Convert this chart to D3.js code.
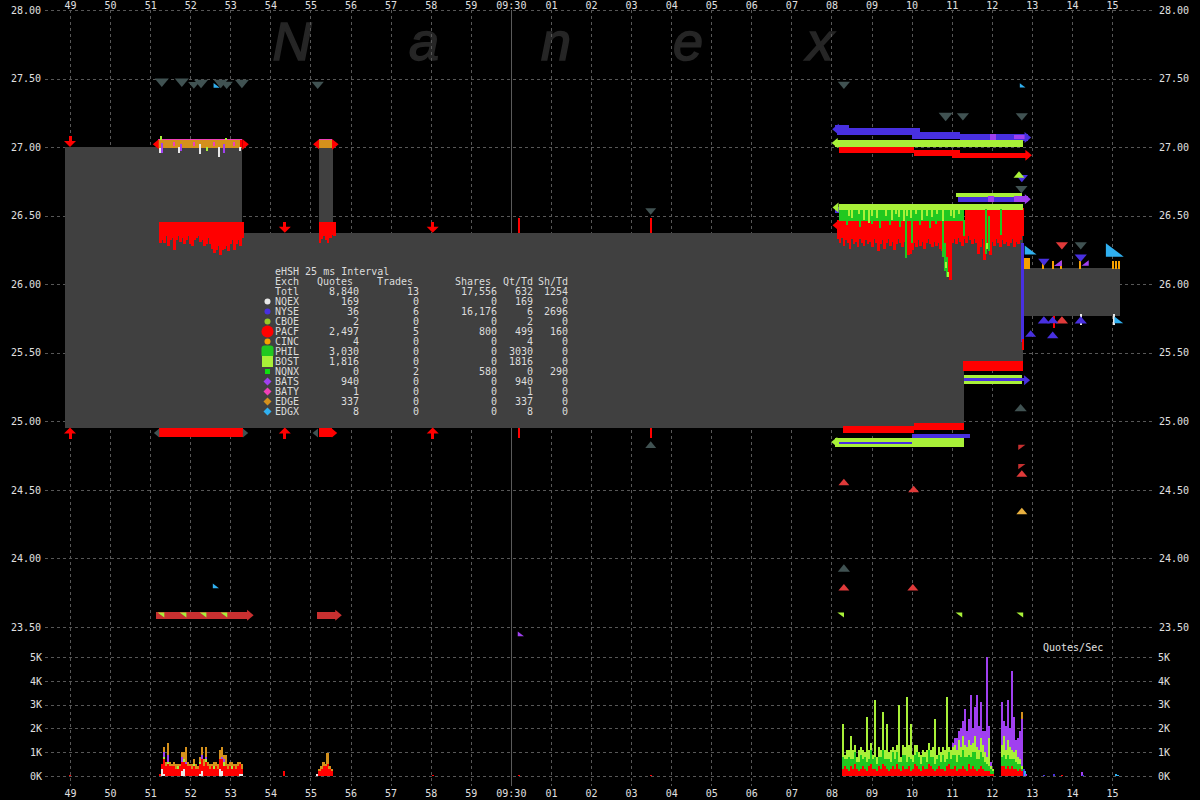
<!DOCTYPE html>
<html><head><meta charset="utf-8">
<script src="https://cdn.jsdelivr.net/npm/d3@7"></script>
<style>
html,body{margin:0;padding:0;background:#000;}
svg{display:block;}
text{font-family:"DejaVu Sans Mono",monospace;}
</style></head>
<body>
<svg id="chart" width="1200" height="800"></svg>
<script>
// ================= DATA =================
const secondTicks = [-11,-10,-9,-8,-7,-6,-5,-4,-3,-2,-1,0,1,2,3,4,5,6,7,8,9,10,11,12,13,14,15];
const secondLabels = ["49","50","51","52","53","54","55","56","57","58","59","09:30","01","02","03","04","05","06","07","08","09","10","11","12","13","14","15"];
const priceTicks = [28,27.5,27,26.5,26,25.5,25,24.5,24,23.5];
const rateTicks = [0,1000,2000,3000,4000,5000];
const rateLabels = ["0K","1K","2K","3K","4K","5K"];

// NBBO spread (step intervals)
const nbboTimes = [-11.13,-6.72,-4.79,-4.45,11.3,12.77,15.2];
const nbboAsk  = [27.00,26.375,27.00,26.375,26.375,26.12];
const nbboBid  = [24.955,24.955,24.955,24.955,25.44,25.77];

// quote bands: [exch, tStart, tEnd, priceHigh, priceLow]
const quoteBands = [
  ["EDGE",-8.80,-6.70,27.052,26.993],
  ["BATY",-8.80,-6.70,27.057,27.050],
  ["PACF",-8.78,-6.68,24.951,24.886],
  ["PACFd",-8.86,-6.54,23.609,23.558],
  ["EDGE",-4.79,-4.46,27.052,26.993],
  ["BATY",-4.79,-4.46,27.057,27.050],
  ["PACF",-4.79,-4.46,24.951,24.886],
  ["PACFd",-4.84,-4.34,23.609,23.558],
  ["NYSE",8.10,8.45,27.161,27.130],
  ["NYSE",8.13,10.20,27.139,27.088],
  ["NYSE",10.00,11.20,27.110,27.059],
  ["NYSE",11.20,12.90,27.096,27.044],
  ["BATS",11.95,12.10,27.096,27.050],
  ["BATS",12.55,12.90,27.090,27.060],
  ["BOST",8.10,12.78,27.052,27.000],
  ["PACF",8.20,10.05,27.000,26.957],
  ["PACF",10.05,11.20,26.979,26.935],
  ["PACF",11.00,12.92,26.957,26.921],
  ["BOST",11.10,12.75,26.665,26.635],
  ["NYSE",11.15,12.90,26.635,26.600],
  ["BATS",12.55,12.90,26.640,26.600],
  ["BATS",11.90,12.05,26.640,26.600],
  ["NYSE",8.10,8.22,26.560,26.520],
  ["PHIL",8.18,11.30,26.541,26.462],
  ["BOST",8.18,12.78,26.585,26.541],
  ["BOST",8.10,11.30,24.878,24.813],
  ["NYSE",8.20,10.00,24.849,24.834],
  ["NYSE",10.00,11.45,24.905,24.878],
  ["PACF",8.30,10.05,24.968,24.915],
  ["PACF",10.05,11.30,24.990,24.940],
  ["PACF",11.28,12.78,25.440,25.367],
  ["BOST",11.30,12.75,25.338,25.316],
  ["NYSE",11.30,12.85,25.316,25.294],
  ["BOST",11.30,12.75,25.294,25.272],
  ["CINC",12.78,12.95,26.19,26.11]
];

// PACF quote profiles (top price, then lowest price every 0.05 s)
const profileStep = 0.05;
const pacfLeftStart = -8.78, pacfLeftTop = 26.454;
const pacfLeftLows = [26.30,26.32,26.30,26.35,26.28,26.32,26.34,26.25,26.32,26.35,
  26.31,26.34,26.29,26.32,26.35,26.29,26.28,26.32,26.34,26.35,
  26.31,26.32,26.28,26.29,26.34,26.29,26.26,26.23,26.25,26.28,
  26.21,26.25,26.26,26.28,26.24,26.29,26.32,26.25,26.29,26.32,
  26.28,26.34];
const pacfMidStart = -4.79, pacfMidTop = 26.454;
const pacfMidLows = [26.30,26.33,26.35,26.32,26.30,26.34,26.36,26.35];
const pacfRight1Start = 8.134, pacfRight1Top = 26.468;
const pacfRight1Lows = [26.33,26.30,26.34,26.28,26.32,26.30,26.26,26.33,26.29,26.31,26.27,26.33,26.30,26.28,26.32,26.29,26.31,
  26.27,26.33,26.30,26.24,26.29,26.32,26.26,26.30,26.33,26.28,26.31,26.25,26.29,26.33,26.30,26.27,26.31,26.29,
  26.21,26.22,26.25,26.30,26.27,26.32,26.28,26.31,26.26,26.30,26.33,26.29,26.27,26.31,26.28,26.30,26.26,
  26.24,26.20,26.12,26.06,26.03,26.30,26.33,26.29,26.34,26.31,26.28,26.33];
const pacfRight2Start = 11.33, pacfRight2Top = 26.556;
const pacfRight2Lows = [26.30,26.35,26.32,26.29,26.33,
  26.30,26.22,26.27,26.33,26.18,26.30,26.26,26.21,26.31,26.28,26.33,26.30,26.27,26.32,26.29,26.31,26.28,
  26.30,26.33,26.27,26.31,26.29,26.32,26.35];

// single quote ticks: [exch, t, priceHigh, priceLow]
const quoteTicks = [
  ["BOST",-8.74,27.08,27.05],["BATS",-8.70,27.03,26.96],["NQEX",-8.76,26.99,26.96],
  ["BATS",-8.23,27.02,26.97],["NQEX",-8.27,27.00,26.96],["NQEX",-7.76,27.02,26.95],
  ["BOST",-7.58,27.00,26.97],["BATS",-7.16,27.02,26.96],["NQEX",-7.28,27.00,26.93],
  ["NQEX",-6.77,27.00,26.97],["BOST",-7.10,27.07,27.05],["PACF",-6.74,27.05,27.00],
  ["BATY",-8.40,27.04,27.01],["BATY",-7.90,27.04,27.01],["BATY",-7.40,27.04,27.01],
  ["BATY",-6.90,27.04,27.01],
  ["PACF",0.20,26.48,26.375],["PACF",0.20,24.955,24.88],
  ["PACF",3.49,26.48,26.375],["PACF",3.49,24.955,24.88],
  ["PHIL",9.855,26.47,26.19],["PHIL",10.00,26.47,26.30],["PHIL",10.78,26.47,26.20],
  ["PHIL",10.83,26.30,26.10],["PHIL",10.88,26.20,26.05],["PHIL",11.30,26.47,26.35],
  ["PHIL",11.85,26.55,26.22],["PHIL",11.93,26.50,26.24],["PHIL",12.23,26.55,26.36],
  ["BOST",10.86,26.16,26.12],["BOST",10.90,26.09,26.05],["BOST",11.88,26.30,26.26],
  ["PHIL",8.40,26.47,26.43],["PHIL",8.70,26.47,26.42],["PHIL",9.00,26.47,26.44],
  ["PHIL",9.20,26.47,26.41],["PHIL",9.45,26.47,26.43],["PHIL",9.70,26.47,26.42],
  ["PHIL",10.20,26.47,26.43],["PHIL",10.45,26.47,26.41],["PHIL",10.60,26.47,26.44],
  ["BOST",8.43,26.54,26.50],["BOST",8.51,26.54,26.48],["BOST",8.68,26.54,26.51],
  ["BOST",8.81,26.54,26.47],["BOST",8.93,26.54,26.45],["BOST",9.01,26.54,26.50],
  ["BOST",9.13,26.54,26.48],["BOST",9.35,26.54,26.50],["BOST",9.50,26.54,26.47],
  ["BOST",9.61,26.54,26.51],["BOST",9.68,26.54,26.49],["BOST",9.81,26.54,26.46],
  ["BOST",9.88,26.54,26.50],["BOST",9.98,26.54,26.48],["BOST",10.10,26.54,26.51],
  ["BOST",10.25,26.54,26.47],["BOST",10.38,26.54,26.50],["BOST",10.50,26.54,26.49],
  ["BOST",10.63,26.54,26.51],["BOST",10.78,26.54,26.46],["BOST",10.98,26.54,26.50],
  ["BOST",11.05,26.54,26.48],["BOST",11.18,26.54,26.51],
  ["NYSE",12.76,26.30,25.58],["PACF",12.78,25.60,25.52],
  ["CINC",13.27,26.17,26.11],["CINC",13.52,26.17,26.11],["CINC",13.73,26.17,26.11],
  ["CINC",14.20,26.17,26.11],["CINC",15.03,26.17,26.11],["CINC",15.10,26.17,26.11],
  ["CINC",15.17,26.17,26.11],
  ["NQEX",14.22,25.78,25.70],["NQEX",15.05,25.78,25.70],["PACF",13.55,25.77,25.68]
];

// quote markers: [exch, t, price, side, lots]
const quoteMarks = [
  ["OTHR",-8.71,27.47,"a",2],["OTHR",-8.21,27.47,"a",2],["OTHR",-7.91,27.45,"a",1.3],
  ["OTHR",-7.73,27.46,"a",2],["OTHR",-7.24,27.46,"a",2],["OTHR",-7.09,27.45,"a",1.5],
  ["OTHR",-6.71,27.46,"a",2],["OTHR",-4.82,27.45,"a",1.5],
  ["OTHR",8.31,27.45,"a",1.5],["OTHR",10.85,27.22,"a",2],["OTHR",11.28,27.22,"a",1.5],
  ["OTHR",12.75,27.22,"a",1.5],["OTHR",12.74,26.69,"a",1.5],["OTHR",12.72,25.10,"b",1.5],
  ["OTHR",3.49,26.53,"a",1.2],["OTHR",3.49,24.83,"b",1.2],["OTHR",8.31,23.93,"b",1.5],
  ["OTHR",14.22,26.28,"a",1.5],
  ["PACFm",8.31,24.557,"b",1.2],["PACFm",10.05,24.506,"b",1.2],["PACFm",8.31,23.79,"b",1.2],
  ["PACFm",10.03,23.79,"b",1.2],["PACFm",12.75,24.62,"b",1.2],["PACFm",13.75,26.28,"a",1.5],
  ["PACFm",13.75,25.74,"b",1.5],
  ["PACFd",12.75,24.81,"tl",0.8],["PACFd",12.75,24.67,"tl",0.8],
  ["CINCm",12.75,24.346,"b",1.2],
  ["BOST",-8.73,23.587,"tr",0.7],["BOST",-8.18,23.587,"tr",0.7],["BOST",-7.68,23.587,"tr",0.7],
  ["BOST",-7.16,23.587,"tr",0.7],["BOST",8.23,23.587,"tr",0.7],["BOST",11.18,23.587,"tr",0.7],
  ["BOST",12.70,23.587,"tr",0.7],
  ["EDGX",-7.36,23.80,"bl",0.6],["EDGX",-7.34,27.45,"bl",0.6],["EDGX",12.77,27.45,"bl",0.5],
  ["EDGX",12.97,26.25,"bl",2.2],["EDGX",15.07,26.25,"bl",5],["EDGX",15.17,25.74,"bl",1.2],
  ["BATS",0.25,23.45,"bl",0.6],
  ["NYSE",13.30,26.16,"a",1.3],["NYSE",14.22,26.19,"a",1.5],["NYSE",13.30,25.74,"b",1.5],
  ["NYSE",13.52,25.74,"b",1.3],["NYSE",14.22,25.74,"b",1.5],["NYSE",13.52,25.63,"b",1.3],
  ["NYSE",12.97,25.64,"b",1.2],["NYSE",12.75,26.77,"a",1.5],
  ["BATS",13.65,26.155,"br",1.0],["BATS",14.33,26.155,"br",0.8],
  ["BOST",12.68,26.80,"b",1.2],
  ["PACF",-6.62,27.02,"r",1.2],["PACF",-8.86,27.02,"l",1],
  ["OTHR",-8.84,24.915,"l",0.8],["OTHR",-6.62,24.915,"r",0.8],
  ["PACF",-4.86,27.02,"l",1],["PACF",-4.38,27.02,"r",1.2],
  ["OTHR",-4.88,24.915,"l",0.8],["PACF",-4.40,24.915,"r",0.8],
  ["PACFd",-6.50,23.585,"r",1.2],["PACFd",-4.30,23.585,"r",1.2],
  ["NYSE",8.10,27.13,"l",1.2],["BOST",8.08,27.03,"l",1],["PACF",8.10,26.43,"l",1],
  ["BOST",8.07,24.85,"l",1],["NYSE",12.90,27.07,"r",1.2],["PACF",12.92,26.94,"r",1.2],
  ["NYSE",12.88,25.30,"r",1],["BATS",12.90,26.62,"r",1],["BOST",8.10,26.56,"l",1]
];

// trade arrows: [exch, t, price, side]
const tradeArrows = [
  ["PACF",-11.0,27.00,"a"],["PACF",-11.0,24.955,"b"],
  ["PACF",-5.64,26.375,"a"],["PACF",-5.64,24.955,"b"],
  ["PACF",-1.95,26.375,"a"],["PACF",-1.95,24.955,"b"]
];

// Quotes/sec, one bar per 0.05 s
const rateStep = 0.05;
const rateLeftStart = -8.78;
const rateLeftNQEX = [0,300,100,0,0,0,0,0,0,0,0,200,300,0,0,0,0,0,0,0,100,200,0,0,0,0,0,0,0,0,300,200,0,0,0,0,0,0,0,0,100,100];
const rateLeftPACF = [100,200,600,400,500,400,400,400,300,300,400,400,300,500,400,400,300,400,300,300,400,500,400,600,400,300,400,300,400,300,400,500,400,400,300,400,300,400,300,400,400,200];
const rateLeftBOST = [0,0,100,0,100,0,0,0,0,100,0,0,100,0,0,0,0,100,0,0,100,0,0,100,0,0,0,100,0,0,0,0,200,0,0,0,100,0,0,0,0,0];
const rateLeftBATS = [0,0,200,0,300,0,0,0,0,0,0,200,0,100,0,0,0,0,0,0,0,200,0,100,0,0,0,0,0,0,0,100,100,0,0,0,0,0,0,0,0,0];
const rateLeftEDGE = [0,0,200,200,500,200,100,200,200,100,100,200,300,600,200,100,200,200,200,100,200,300,300,400,200,200,100,200,200,200,400,400,200,500,200,200,200,100,200,200,100,200];

const rateMidStart = -4.85;
const rateMidNQEX = [100,0,0,0,0,0,0,0];
const rateMidPACF = [0,200,300,400,400,500,300,200];
const rateMidEDGE = [0,100,100,200,100,450,100,100];

const rateRight1Start = 8.26;
const rateRight1PACF = [300,400,300,200,400,300,500,300,200,300,400,300,200,400,500,300,300,200,400,300,500,400,300,200,300,400,300,500,300,200,400,300,300,400,200,300,500,400,300,200,400,300,300,500,400,300,200,300,400,300,300,200,400,500,300,300,400,200,300,300,400,300,200,500,300,400,300,200,300,400,300,200,200,200,100,100];
const rateRight1PHIL = [500,300,400,600,300,400,500,300,400,600,300,500,400,300,600,400,500,300,400,500,600,300,400,500,300,600,400,500,300,400,500,600,300,400,500,300,400,600,500,300,400,500,300,600,400,500,300,400,500,300,600,400,300,500,400,600,500,400,600,500,700,500,600,400,500,600,700,500,400,600,500,400,300,200,200,100];
const rateRight1BOST = [1400,200,400,300,1000,400,300,200,500,300,400,200,1900,400,300,200,2400,300,400,300,1600,400,1500,300,500,200,400,300,2400,200,400,300,2700,500,1500,300,400,300,200,400,300,200,500,300,300,400,1900,200,300,400,300,500,2600,200,400,300,400,500,600,400,600,500,400,600,500,400,700,500,400,600,500,400,300,1200,100,100];
const rateRight1BATS = [0,0,0,0,0,0,0,0,0,0,0,0,0,0,0,0,0,0,0,0,0,0,0,0,0,0,0,0,0,0,0,0,0,0,0,0,0,0,0,0,0,0,0,0,0,0,0,0,0,0,0,0,0,0,0,200,300,500,400,800,600,1500,700,900,2100,600,1200,2200,1000,1500,600,900,4200,500,200,0];

const rateRight2Start = 12.22;
const rateRight2PACF = [400,400,300,400,300,400,300,300,200,300,200];
const rateRight2PHIL = [400,500,400,500,400,300,400,300,300,200,100];
const rateRight2BOST = [500,800,400,600,500,400,300,500,300,200,100];
const rateRight2BATS = [1800,600,1000,1700,800,3300,1500,400,800,1200,2000];
const rateRight2EDGE = [0,0,0,0,0,0,0,0,0,0,300];

// isolated rate bars: [exch, t, quotes/sec]
const rateSingles = [
  ["PACF",-11.0,30],["PACF",-5.65,200],["PACF",-1.95,50],["PACF",0.2,60],["PACF",3.49,50],
  ["NYSE",12.80,300],["EDGX",12.83,200],["BATS",12.86,100],["NYSE",13.30,50],["NYSE",13.55,80],
  ["PACF",13.75,40],["BATS",14.25,180],["NYSE",14.27,60],["EDGX",15.10,80],["EDGX",15.15,60]
];

// legend table
const legendTitle = "eHSH 25 ms Interval";
const legendExch   = ["NQEX","NYSE","CBOE","PACF","CINC","PHIL","BOST","NQNX","BATS","BATY","EDGE","EDGX"];
const legendQuotes = [169,36,2,2497,4,3030,1816,0,940,1,337,8];
const legendTrades = [0,6,0,5,0,0,0,2,0,0,0,0];
const legendShares = [0,16176,0,800,0,0,0,580,0,0,0,0];
const legendQtTd   = [169,6,2,499,4,3030,1816,0,940,1,337,8];
const legendShTd   = [0,2696,0,160,0,0,0,290,0,0,0,0];
const totalQuotes = 8840, totalTrades = 13, totalShares = 17556, totalQtTd = 632, totalShTd = 1254;

// ================= DRAW =================
const exchColor = {NQEX:"#e8e8e8",NYSE:"#4830e0",CBOE:"#98c828",PACF:"#ff0000",CINC:"#f5a000",
  PHIL:"#20c820",BOST:"#a8f038",NQNX:"#10e010",BATS:"#a040f0",BATY:"#f040b8",EDGE:"#d4901c",
  EDGX:"#30b0f0",OTHR:"#405252",PACFm:"#e03a3a",PACFd:"#c83030",CINCm:"#e8b040"};

const svg = d3.select("#chart").attr("shape-rendering","crispEdges");
const x  = d3.scaleLinear().domain([-11,15]).range([70,1112]);
const y  = d3.scaleLinear().domain([23.5,28]).range([627,10]);
const yr = d3.scaleLinear().domain([0,5000]).range([776,657]);
const lotSize = d3.scaleSqrt().domain([0,1]).range([0,10]);

svg.append("rect").attr("width",1200).attr("height",800).attr("fill","#000");

// watermark
svg.append("g").selectAll("text").data(["N","a","n","e","x"]).join("text")
  .attr("x",(d,i)=>292+i*132).attr("y",60).attr("text-anchor","middle")
  .style("font-family","'Liberation Sans',Arial,sans-serif").style("font-style","italic")
  .style("font-size","54px").attr("fill","#262626").attr("stroke","#262626").attr("stroke-width",1.5)
  .attr("shape-rendering","auto").text(d=>d);

// grid
const grid = svg.append("g").attr("stroke","#575757").attr("stroke-dasharray","3,3");
grid.selectAll(".hp").data(priceTicks).join("line")
  .attr("x1",45).attr("x2",1155).attr("y1",d=>Math.round(y(d))+0.5).attr("y2",d=>Math.round(y(d))+0.5);
grid.selectAll(".hr").data(rateTicks).join("line")
  .attr("x1",45).attr("x2",1155).attr("y1",d=>Math.round(yr(d))+0.5).attr("y2",d=>Math.round(yr(d))+0.5);
grid.selectAll(".v").data(secondTicks.filter(d=>d!==0)).join("line")
  .attr("x1",d=>Math.round(x(d))+0.5).attr("x2",d=>Math.round(x(d))+0.5).attr("y1",10).attr("y2",786);
svg.append("line").attr("x1",Math.round(x(0))+0.5).attr("x2",Math.round(x(0))+0.5)
  .attr("y1",10).attr("y2",786).attr("stroke","#5a5a5a");

// NBBO gray area
svg.append("g").selectAll("rect").data(nbboAsk).join("rect")
  .attr("x",(d,i)=>x(nbboTimes[i])).attr("width",(d,i)=>x(nbboTimes[i+1])-x(nbboTimes[i]))
  .attr("y",d=>y(d)).attr("height",(d,i)=>y(nbboBid[i])-y(d)).attr("fill","#404040");

const marks = svg.append("g");
function band(g, exch, t0, t1, hi, lo){
  g.append("rect").attr("x",x(t0)).attr("width",Math.max(1,x(t1)-x(t0)))
   .attr("y",y(hi)).attr("height",Math.max(1,y(lo)-y(hi))).attr("fill",exchColor[exch]);
}
// PACF profiles
function profile(start, top, lows){
  marks.append("g").selectAll("rect").data(lows).join("rect")
    .attr("x",(d,i)=>x(start+i*profileStep)).attr("width",x(start+profileStep)-x(start)+0.6)
    .attr("y",y(top)).attr("height",d=>y(d)-y(top)).attr("fill",exchColor.PACF);
}
quoteBands.filter(b=>b[0]==="PACFd").forEach(b=>band(marks,...b));
profile(pacfLeftStart,pacfLeftTop,pacfLeftLows);
profile(pacfMidStart,pacfMidTop,pacfMidLows);
profile(pacfRight1Start,pacfRight1Top,pacfRight1Lows);
profile(pacfRight2Start,pacfRight2Top,pacfRight2Lows);
quoteBands.filter(b=>b[0]!=="PACFd").forEach(b=>band(marks,...b));

// ticks
marks.append("g").selectAll("rect").data(quoteTicks).join("rect")
  .attr("x",d=>x(d[1])-1).attr("width",d=>d[0]==="NYSE"?3:2)
  .attr("y",d=>y(d[2])).attr("height",d=>Math.max(1,y(d[3])-y(d[2])))
  .attr("fill",d=>exchColor[d[0]]);

// markers
function markerPath(side, s){
  const w=s, h=s*0.6, q=s*0.8, r=s*0.6;
  switch(side){
    case "a": return `M${-w/2},${-h/2}L${w/2},${-h/2}L0,${h/2}Z`;
    case "b": return `M${-w/2},${h/2}L${w/2},${h/2}L0,${-h/2}Z`;
    case "r": return `M${-h/2},${-w/2}L${h/2},0L${-h/2},${w/2}Z`;
    case "l": return `M${h/2},${-w/2}L${-h/2},0L${h/2},${w/2}Z`;
    case "tr": return `M${-q/2},${-r/2}L${q/2},${-r/2}L${q/2},${r/2}Z`;
    case "tl": return `M${-q/2},${-r/2}L${q/2},${-r/2}L${-q/2},${r/2}Z`;
    case "bl": return `M${-q/2},${-r/2}L${-q/2},${r/2}L${q/2},${r/2}Z`;
    case "br": return `M${q/2},${-r/2}L${q/2},${r/2}L${-q/2},${r/2}Z`;
  }
}
marks.append("g").selectAll("path").data(quoteMarks).join("path")
  .attr("transform",d=>`translate(${x(d[1])},${y(d[2])})`)
  .attr("d",d=>markerPath(d[3],lotSize(d[4]))).attr("fill",d=>exchColor[d[0]])
  .attr("shape-rendering","auto");

// trade arrows
const arrows = marks.append("g").selectAll("g").data(tradeArrows).join("g")
  .attr("transform",d=>`translate(${x(d[1])},${y(d[2])})`).attr("fill",d=>exchColor[d[0]]);
arrows.append("path").attr("shape-rendering","auto")
  .attr("d",d=>d[3]==="a"?"M-6,-6L6,-6L0,0Z":"M-6,6L6,6L0,0Z");
arrows.append("rect").attr("x",-1.5).attr("width",3)
  .attr("y",d=>d[3]==="a"?-11:4).attr("height",7);

// rate bars
const rateOrder = ["NQEX","PACF","PHIL","BOST","BATS","EDGE"];
function rateCluster(start, series){
  const keys = rateOrder.filter(k=>series[k]);
  const rows = series[keys[0]].map((v,i)=>{const r={t:start+i*rateStep}; keys.forEach(k=>r[k]=series[k][i]); return r;});
  const st = d3.stack().keys(keys)(rows);
  const g = svg.append("g");
  st.forEach(layer=>{
    g.append("g").attr("fill",exchColor[layer.key]).selectAll("rect").data(layer).join("rect")
      .attr("x",d=>x(d.data.t)).attr("width",x(start+rateStep)-x(start)+0.3)
      .attr("y",d=>yr(d[1])).attr("height",d=>Math.max(0,yr(d[0])-yr(d[1])));
  });
}
rateCluster(rateLeftStart,{NQEX:rateLeftNQEX,PACF:rateLeftPACF,BOST:rateLeftBOST,BATS:rateLeftBATS,EDGE:rateLeftEDGE});
rateCluster(rateMidStart,{NQEX:rateMidNQEX,PACF:rateMidPACF,EDGE:rateMidEDGE});
rateCluster(rateRight1Start,{PACF:rateRight1PACF,PHIL:rateRight1PHIL,BOST:rateRight1BOST,BATS:rateRight1BATS});
rateCluster(rateRight2Start,{PACF:rateRight2PACF,PHIL:rateRight2PHIL,BOST:rateRight2BOST,BATS:rateRight2BATS,EDGE:rateRight2EDGE});
svg.append("g").selectAll("rect").data(rateSingles).join("rect")
  .attr("x",d=>x(d[1])-1).attr("width",2).attr("y",d=>yr(d[2]))
  .attr("height",d=>Math.max(1,yr(0)-yr(d[2]))).attr("fill",d=>exchColor[d[0]]);

// legend
const fmt = d3.format(",");
const lg = svg.append("g").attr("fill","#dcdcdc").style("font-size","10px");
lg.append("text").attr("x",275).attr("y",275).text(legendTitle);
const hdr = [["Exch",275,"start"],["Quotes",353,"end"],["Trades",413,"end"],["Shares",491,"end"],["Qt/Td",533,"end"],["Sh/Td",568,"end"]];
lg.selectAll(".hd").data(hdr).join("text").attr("x",d=>d[1]).attr("y",285).attr("text-anchor",d=>d[2]).text(d=>d[0]);
const colEnds = [359,419,497,533,568];
const totRow = ["Totl",fmt(totalQuotes),String(totalTrades),fmt(totalShares),String(totalQtTd),String(totalShTd)];
lg.selectAll(".tot").data(totRow).join("text").attr("x",(d,i)=>i===0?275:colEnds[i-1]).attr("y",295)
  .attr("text-anchor",(d,i)=>i===0?"start":"end").text(d=>d);
legendExch.forEach((ex,i)=>{
  const yy = 305+i*10;
  const cells = [ex,fmt(legendQuotes[i]),String(legendTrades[i]),fmt(legendShares[i]),String(legendQtTd[i]),String(legendShTd[i])];
  lg.append("g").selectAll("text").data(cells).join("text").attr("x",(d,j)=>j===0?275:colEnds[j-1]).attr("y",yy)
    .attr("text-anchor",(d,j)=>j===0?"start":"end").text(d=>d);
});
const lm = svg.append("g").attr("shape-rendering","auto");
legendExch.forEach((ex,i)=>{
  const cy = 301.5+i*10, cx = 267.5, c = exchColor[ex];
  if(ex==="PACF") lm.append("circle").attr("cx",cx).attr("cy",cy).attr("r",6).attr("fill",c);
  else if(ex==="PHIL") lm.append("rect").attr("x",cx-6).attr("y",cy-6).attr("width",12).attr("height",12).attr("rx",3).attr("fill",c);
  else if(ex==="BOST") lm.append("rect").attr("x",cx-5.5).attr("y",cy-5.5).attr("width",11).attr("height",11).attr("fill",c);
  else if(ex==="NQNX") lm.append("rect").attr("x",cx-2.5).attr("y",cy-2.5).attr("width",5).attr("height",5).attr("fill",c);
  else if(["BATS","BATY","EDGE","EDGX"].includes(ex)) lm.append("path").attr("d",`M${cx},${cy-4}L${cx+4},${cy}L${cx},${cy+4}L${cx-4},${cy}Z`).attr("fill",c);
  else lm.append("circle").attr("cx",cx).attr("cy",cy).attr("r",3).attr("fill",c);
});

// axes
function styleAxis(g){ g.select(".domain").remove(); g.attr("color","#e0e0e0").style("font-size","10px").style("font-family","'DejaVu Sans Mono',monospace"); }
svg.append("g").attr("transform","translate(0,9)")
  .call(d3.axisTop(x).tickValues(secondTicks).tickFormat((d,i)=>secondLabels[i]).tickSize(0).tickPadding(0)).call(styleAxis);
svg.append("g").attr("transform","translate(0,790)")
  .call(d3.axisBottom(x).tickValues(secondTicks).tickFormat((d,i)=>secondLabels[i]).tickSize(0).tickPadding(0)).call(styleAxis);
svg.append("g").attr("transform","translate(41,0)")
  .call(d3.axisLeft(y).tickValues(priceTicks).tickFormat(d3.format(".2f")).tickSize(0).tickPadding(0)).call(styleAxis);
svg.append("g").attr("transform","translate(1159,0)")
  .call(d3.axisRight(y).tickValues(priceTicks).tickFormat(d3.format(".2f")).tickSize(0).tickPadding(0)).call(styleAxis);
svg.append("g").attr("transform","translate(42,0)")
  .call(d3.axisLeft(yr).tickValues(rateTicks).tickFormat((d,i)=>rateLabels[i]).tickSize(0).tickPadding(0)).call(styleAxis);
svg.append("g").attr("transform","translate(1158,0)")
  .call(d3.axisRight(yr).tickValues(rateTicks).tickFormat((d,i)=>rateLabels[i]).tickSize(0).tickPadding(0)).call(styleAxis);
svg.append("text").attr("x",1043).attr("y",651).attr("fill","#e0e0e0").style("font-size","10px").text("Quotes/Sec");
</script>
</body></html>
